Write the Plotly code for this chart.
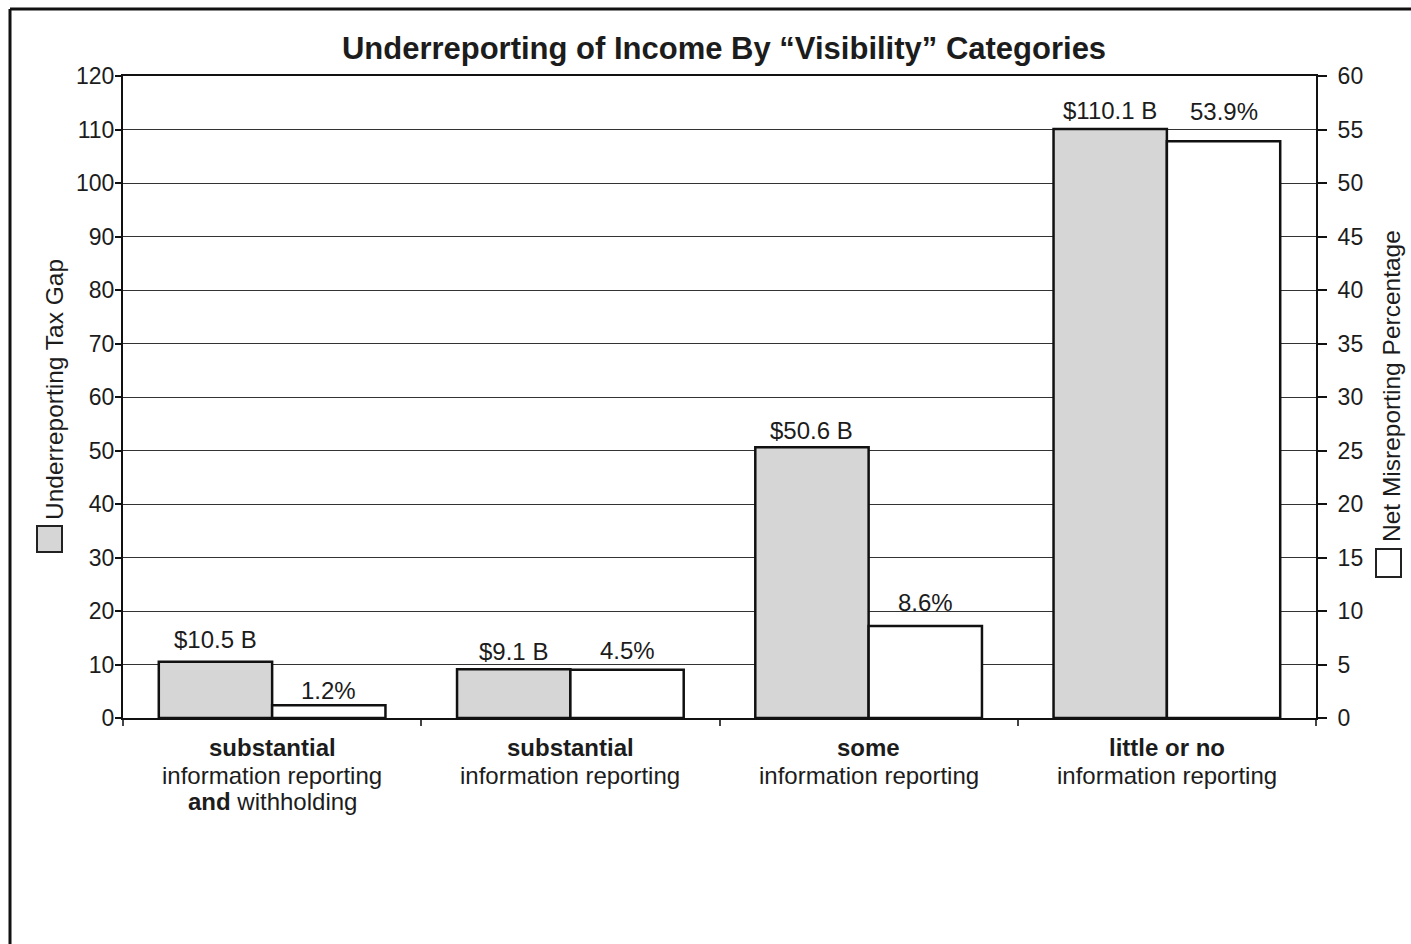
import plotly.graph_objects as go

categories = [
    "substantial information reporting and withholding",
    "substantial information reporting",
    "some information reporting",
    "little or no information reporting",
]
category_lines = [
    ["<b>substantial</b>", "information reporting", "<b>and</b> withholding"],
    ["<b>substantial</b>", "information reporting"],
    ["<b>some</b>", "information reporting"],
    ["<b>little or no</b>", "information reporting"],
]
tax_gap = [10.5, 9.1, 50.6, 110.1]
tax_gap_labels = ["$10.5 B", "$9.1 B", "$50.6 B", "$110.1 B"]
misreport_pct = [1.2, 4.5, 8.6, 53.9]
misreport_labels = ["1.2%", "4.5%", "8.6%", "53.9%"]

# label offsets above bar tops (px), as placed in the original
gap_label_shift = [22, 18, 17, 18]
pct_label_shift = [15, 19, 23, 30]

FONT = "Liberation Sans, Arial, Helvetica, sans-serif"
INK = "#1c1c1c"

W, H = 1411, 944
L, R, T, B = 123, 95, 76, 226
PW, PH = W - L - R, H - T - B
BARGAP = 0.24
HALF_BAR_PX = PW / len(categories) * (1 - BARGAP) / 4  # centre offset of each bar in a group


def px(x):
    return (x - L) / PW


def py(y):
    return (H - B - y) / PH


fig = go.Figure()
fig.add_trace(go.Bar(
    x=categories, y=tax_gap, yaxis="y", offsetgroup="1",
    name="Underreporting Tax Gap",
    marker=dict(color="#d6d6d6", line=dict(color="#111111", width=2.5)),
))
fig.add_trace(go.Bar(
    x=categories, y=misreport_pct, yaxis="y2", offsetgroup="2",
    name="Net Misreporting Percentage",
    marker=dict(color="#ffffff", line=dict(color="#111111", width=2.5)),
))

annotations = []
# value labels above bars
for c, v, t, s in zip(categories, tax_gap, tax_gap_labels, gap_label_shift):
    annotations.append(dict(x=c, y=v, xref="x", yref="y", text=t, showarrow=False,
                            xshift=-HALF_BAR_PX, yshift=s, yanchor="middle",
                            font=dict(family=FONT, size=24, color=INK)))
for c, v, t, s in zip(categories, misreport_pct, misreport_labels, pct_label_shift):
    annotations.append(dict(x=c, y=v, xref="x", yref="y2", text=t, showarrow=False,
                            xshift=HALF_BAR_PX, yshift=s, yanchor="middle",
                            font=dict(family=FONT, size=24, color=INK)))
# category labels (multi-line)
line_y = [748, 775, 801]
for c, lines in zip(categories, category_lines):
    for i, ln in enumerate(lines):
        annotations.append(dict(x=c, y=py(line_y[i]), xref="x", yref="paper", text=ln,
                                showarrow=False, xanchor="center", yanchor="middle",
                                font=dict(family=FONT, size=24, color=INK)))
# axis titles
annotations += [
    dict(text="Underreporting Tax Gap", xref="paper", yref="paper",
         x=px(54), y=py(390), textangle=-90, showarrow=False,
         xanchor="center", yanchor="middle",
         font=dict(family=FONT, size=24.5, color=INK)),
    dict(text="Net Misreporting Percentage", xref="paper", yref="paper",
         x=px(1391), y=py(386), textangle=-90, showarrow=False,
         xanchor="center", yanchor="middle",
         font=dict(family=FONT, size=24.5, color=INK)),
]

fig.update_layout(
    width=W, height=H,
    margin=dict(l=L, r=R, t=T, b=B, pad=0),
    paper_bgcolor="white", plot_bgcolor="white",
    barmode="group", bargap=BARGAP, bargroupgap=0,
    showlegend=False,
    font=dict(family=FONT, color=INK),
    title=dict(
        text="<b>Underreporting of Income By “Visibility” Categories</b>",
        font=dict(family=FONT, size=31, color=INK),
        x=px(724), xref="paper", xanchor="center",
        y=1 - 48 / H, yref="container", yanchor="middle",
    ),
    xaxis=dict(
        showline=True, linewidth=2, linecolor="#111111", mirror=True,
        ticks="outside", ticklen=6, tickwidth=1.5, tickcolor="#444444",
        tickson="boundaries", showgrid=False, showticklabels=False,
    ),
    yaxis=dict(
        range=[0, 120], dtick=10, showgrid=True, gridcolor="#333333", gridwidth=1.2,
        zeroline=False, showline=True, linewidth=2, linecolor="#111111",
        ticks="outside", ticklen=6, tickwidth=1.5, tickcolor="#111111",
        ticklabelstandoff=-4,
        tickfont=dict(family=FONT, size=23, color=INK),
    ),
    yaxis2=dict(
        range=[0, 60], dtick=5, overlaying="y", side="right", showgrid=False,
        zeroline=False, showline=True, linewidth=2, linecolor="#111111",
        ticks="outside", ticklen=9, tickwidth=1.5, tickcolor="#111111",
        ticklabelstandoff=6,
        tickfont=dict(family=FONT, size=23, color=INK),
    ),
    shapes=[
        # outer frame (top and left edges visible in the scan)
        dict(type="line", xref="paper", yref="paper", x0=px(10), x1=px(1420),
             y0=py(9), y1=py(9), line=dict(color="#111111", width=3)),
        dict(type="line", xref="paper", yref="paper", x0=px(10), x1=px(10),
             y0=py(9), y1=py(960), line=dict(color="#111111", width=3)),
        # legend squares beside axis titles
        dict(type="rect", xref="paper", yref="paper", x0=px(37), x1=px(62),
             y0=py(552), y1=py(526), fillcolor="#d6d6d6",
             line=dict(color="#222222", width=2)),
        dict(type="rect", xref="paper", yref="paper", x0=px(1376), x1=px(1401),
             y0=py(577), y1=py(549), fillcolor="#ffffff",
             line=dict(color="#222222", width=2)),
    ],
    annotations=annotations,
)

fig.write_html("out.html")
